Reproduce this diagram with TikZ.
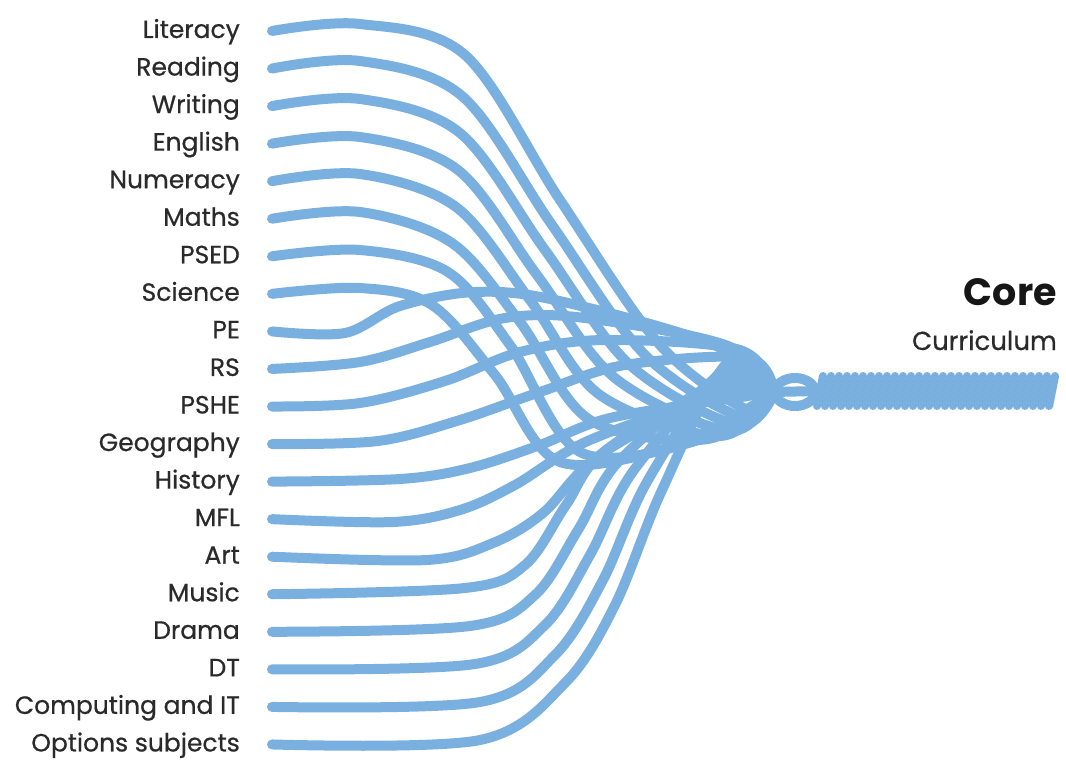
\documentclass[tikz,border=0pt]{standalone}
\usepackage{fontspec}
\setmainfont{Poppins}
\newfontfamily\lblfont[FakeBold=0.6]{Poppins}
\usepackage{tikz}
\definecolor{strandblue}{HTML}{7AB0E0}
\definecolor{labelink}{HTML}{2A2A2A}
\definecolor{titleink}{HTML}{161616}

\begin{document}
\begin{tikzpicture}[
  x=1pt,y=-1pt,
  lbl/.style={anchor=base east,inner sep=0pt,text=labelink,font=\lblfont\fontsize{25}{27}\selectfont},
  strand/.style={draw=strandblue,line width=10pt,line cap=round,line join=round},
  twist/.style={draw=strandblue,line width=8pt,line cap=round},
  seam/.style={draw=strandblue!78!black,line width=0.8pt,opacity=0.16}
]
\useasboundingbox (0,0) rectangle (1066,760);
% subject labels and strand starts
\foreach \lab [count=\i from 0] in {Literacy,Reading,Writing,English,Numeracy,Maths,PSED,Science,PE,RS,PSHE,Geography,History,MFL,Art,Music,Drama,DT,Computing and IT,Options subjects}{
  \node[lbl] (l\i) at (240,38+37.55*\i) {\lab};
  \coordinate (s\i) at (272,31+37.55*\i);
}
\coordinate (knot) at (774,392);
% strands into the knot
\foreach \i/\ax/\ay/\bx/\by/\cx/\cy/\dx/\dy/\ex/\ey in {
  0/360/24/465/55/560/200/660/345/748/410,
  1/360/61/462/96/552/225/645/355/744/418,
  2/360/99/460/133/545/250/630/365/738/425,
  3/360/137/458/170/537/275/615/378/730/431,
  4/360/174/456/207/530/300/600/395/720/436,
  5/360/212/452/243/520/322/590/420/708/439,
  6/360/250/448/272/510/345/580/452/695/441,
  7/360/288/432/305/495/375/560/462/682/443,
  8/345/333/400/306/475/292/555/300/712/344,
  9/360/362/430/342/505/318/585/318/728/346,
  10/360/403/445/381/520/352/605/340/740/350,
  11/378/441/460/420/540/392/625/365/748/358,
  12/400/479/470/468/540/445/610/418/735/398,
  13/393/522/460/510/515/485/590/440/730/392,
  14/427/560/493/543/543/513/600/455/728/386,
  15/465/588/525/565/566/505/606/450/727/380,
  16/470/626/535/595/578/530/620/460/726/375,
  17/475/664/545/625/590/555/634/470/726/370,
  18/480/702/555/655/603/580/648/480/727/366,
  19/480/740/565/683/615/605/662/490/728/362}{
  \draw[strand] plot[smooth,tension=.55] coordinates {(s\i) (\ax,\ay) (\bx,\by) (\cx,\cy) (\dx,\dy) (\ex,\ey) (knot)};
}
% eye and twisted rope
\coordinate (ropeL) at (817,391);
\coordinate (ropeR) at (1054,391);
\draw[strand] (795,392) ellipse [x radius=20,y radius=14];
\draw[strand] (knot) -- (ropeL);
\fill[strandblue] (ropeL) ++(0,-15) rectangle ([yshift=15pt]ropeR);
\foreach \k in {0,...,29}
  \draw[twist] (817+8*\k,406) -- (823+8*\k,376);
\foreach \k in {0,...,29}
  \draw[seam] (821+8*\k,408) -- (827+8*\k,374);
% title
\node[anchor=base east,inner sep=0pt,text=titleink,font=\fontsize{38}{40}\selectfont\bfseries] (core) at (1057,305) {Core};
\node[anchor=base east,inner sep=0pt,text=labelink,font=\lblfont\fontsize{26}{28}\selectfont] (curr) at (1057,350) {Curriculum};
\end{tikzpicture}
\end{document}
